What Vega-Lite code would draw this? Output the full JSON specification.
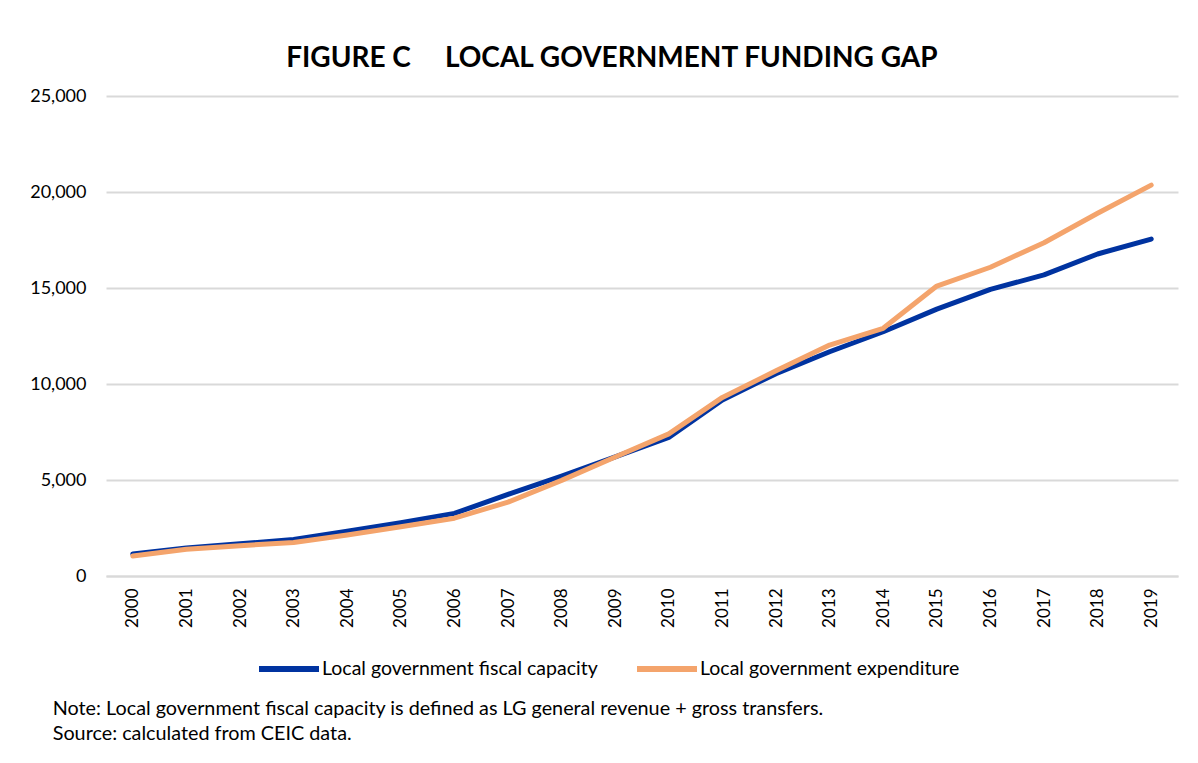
{
  "$schema": "https://vega.github.io/schema/vega-lite/v6.json",
  "background": "white",
  "padding": {"left": 29, "top": 45, "right": 18, "bottom": 5},
  "title": {
    "text": ["Note: Local government fiscal capacity is defined as LG general revenue + gross transfers.", "Source: calculated from CEIC data."],
    "orient": "bottom", "anchor": "start", "frame": "bounds", "dx": 23,
    "font": "Lato", "fontSize": 19.8, "fontWeight": "normal", "lineHeight": 25, "offset": 18, "color": "black"
  },
  "vconcat": [
    {
      "width": 1072,
      "height": 480,
      "title": {
        "text": "FIGURE C\u00a0\u00a0\u00a0\u00a0\u00a0LOCAL GOVERNMENT FUNDING GAP",
        "font": "Lato", "fontSize": 28, "fontWeight": "bold", "anchor": "middle", "frame": "bounds", "offset": 14, "dx": 8, "color": "black"
      },
      "data": {"values": [
        {"year": "2000", "series": "Local government fiscal capacity", "value": 1150},
        {"year": "2001", "series": "Local government fiscal capacity", "value": 1460},
        {"year": "2002", "series": "Local government fiscal capacity", "value": 1680},
        {"year": "2003", "series": "Local government fiscal capacity", "value": 1900},
        {"year": "2004", "series": "Local government fiscal capacity", "value": 2330},
        {"year": "2005", "series": "Local government fiscal capacity", "value": 2780},
        {"year": "2006", "series": "Local government fiscal capacity", "value": 3260},
        {"year": "2007", "series": "Local government fiscal capacity", "value": 4250},
        {"year": "2008", "series": "Local government fiscal capacity", "value": 5200},
        {"year": "2009", "series": "Local government fiscal capacity", "value": 6200},
        {"year": "2010", "series": "Local government fiscal capacity", "value": 7220},
        {"year": "2011", "series": "Local government fiscal capacity", "value": 9170},
        {"year": "2012", "series": "Local government fiscal capacity", "value": 10540},
        {"year": "2013", "series": "Local government fiscal capacity", "value": 11680},
        {"year": "2014", "series": "Local government fiscal capacity", "value": 12720},
        {"year": "2015", "series": "Local government fiscal capacity", "value": 13900},
        {"year": "2016", "series": "Local government fiscal capacity", "value": 14930},
        {"year": "2017", "series": "Local government fiscal capacity", "value": 15680},
        {"year": "2018", "series": "Local government fiscal capacity", "value": 16770},
        {"year": "2019", "series": "Local government fiscal capacity", "value": 17550},
        {"year": "2000", "series": "Local government expenditure", "value": 1040},
        {"year": "2001", "series": "Local government expenditure", "value": 1390},
        {"year": "2002", "series": "Local government expenditure", "value": 1580},
        {"year": "2003", "series": "Local government expenditure", "value": 1750},
        {"year": "2004", "series": "Local government expenditure", "value": 2140},
        {"year": "2005", "series": "Local government expenditure", "value": 2570},
        {"year": "2006", "series": "Local government expenditure", "value": 3010},
        {"year": "2007", "series": "Local government expenditure", "value": 3850},
        {"year": "2008", "series": "Local government expenditure", "value": 4980},
        {"year": "2009", "series": "Local government expenditure", "value": 6200},
        {"year": "2010", "series": "Local government expenditure", "value": 7400},
        {"year": "2011", "series": "Local government expenditure", "value": 9300},
        {"year": "2012", "series": "Local government expenditure", "value": 10690},
        {"year": "2013", "series": "Local government expenditure", "value": 12030},
        {"year": "2014", "series": "Local government expenditure", "value": 12900},
        {"year": "2015", "series": "Local government expenditure", "value": 15100},
        {"year": "2016", "series": "Local government expenditure", "value": 16080},
        {"year": "2017", "series": "Local government expenditure", "value": 17360},
        {"year": "2018", "series": "Local government expenditure", "value": 18890},
        {"year": "2019", "series": "Local government expenditure", "value": 20360}
      ]},
      "mark": {"type": "line", "strokeWidth": 5, "strokeCap": "round", "strokeJoin": "round"},
      "encoding": {
        "x": {
          "field": "year", "type": "ordinal",
          "axis": {"title": null, "labelAngle": 270, "ticks": false, "labelPadding": 12, "domainColor": "#D9D9D9", "domainWidth": 2, "labelFont": "Lato", "labelFontSize": 17, "labelColor": "black"}
        },
        "y": {
          "field": "value", "type": "quantitative",
          "scale": {"domain": [0, 25000]},
          "axis": {"title": null, "values": [0, 5000, 10000, 15000, 20000, 25000], "format": ",.0f", "ticks": false, "domain": false, "gridColor": "#D9D9D9", "gridWidth": 2, "labelPadding": 20, "labelFont": "Lato", "labelFontSize": 18, "labelColor": "black"}
        },
        "color": {
          "field": "series", "type": "nominal",
          "sort": ["Local government fiscal capacity", "Local government expenditure"],
          "scale": {"domain": ["Local government fiscal capacity", "Local government expenditure"], "range": ["#0033A0", "#F4A46C"]},
          "legend": {"title": null, "orient": "none", "legendX": 150, "legendY": 540, "direction": "horizontal", "symbolType": "stroke", "symbolSize": 3600, "symbolStrokeWidth": 6, "labelFont": "Lato", "labelFontSize": 19.5, "labelColor": "black", "labelOffset": 0, "labelLimit": 500, "columnPadding": 27}
        },
        "order": {"field": "year"}
      }
    }
  ],
  "config": {"view": {"stroke": null}}
}
